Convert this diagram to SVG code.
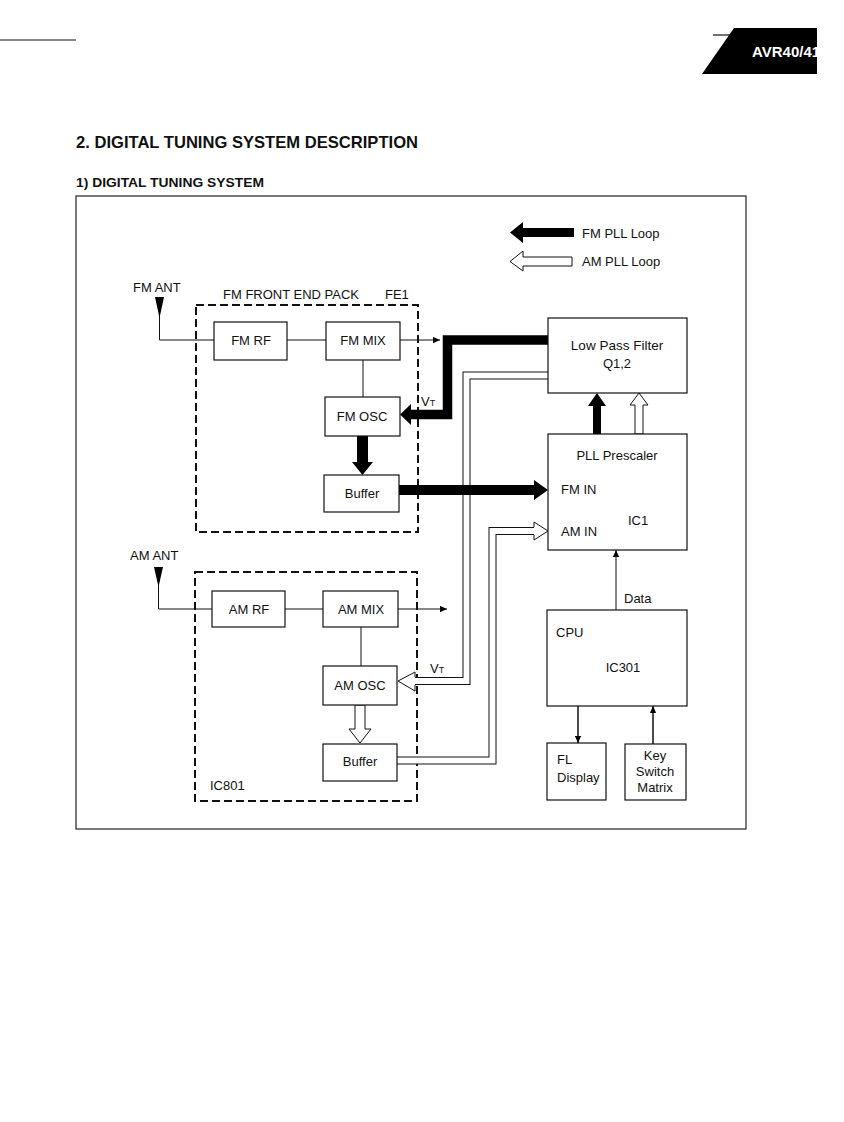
<svg xmlns="http://www.w3.org/2000/svg" width="844" height="1122" viewBox="0 0 844 1122">
<style>
text{font-family:"Liberation Sans",Arial,sans-serif;fill:#111}
.t{font-size:13px}
.m{text-anchor:middle}
.box{fill:#fff;stroke:#111;stroke-width:1.2}
.ln{fill:none;stroke:#111;stroke-width:1}
.dash{fill:none;stroke:#111;stroke-width:2;stroke-dasharray:8 4}
.blk{fill:#000;stroke:none}
.out{fill:#fff;stroke:#111;stroke-width:1}
.dblO{fill:none;stroke:#111;stroke-width:8;stroke-linejoin:miter}
.dblI{fill:none;stroke:#fff;stroke-width:6;stroke-linejoin:miter}
.thick{fill:none;stroke:#000;stroke-width:9.5;stroke-linejoin:miter}
</style>
<defs>
<marker id="arr" viewBox="0 0 10 10" refX="10" refY="5" markerWidth="12" markerHeight="7" markerUnits="userSpaceOnUse" orient="auto">
<path d="M0,0.5 L10,5 L0,9.5 Z" fill="#000"/>
</marker>
<clipPath id="tabclip"><rect x="690" y="20" width="127" height="60"/></clipPath>
</defs>

<g id="header">
<line x1="0" y1="40" x2="76" y2="40" stroke="#111" stroke-width="1.2"/>
<line x1="713" y1="35" x2="735" y2="35" stroke="#111" stroke-width="1.2"/>
<polygon points="734,28 817,28 817,74 702,74" fill="#000"/>
<text x="752" y="57" clip-path="url(#tabclip)" style="font-size:15px;font-weight:bold;fill:#fff">AVR40/41</text>
<text x="76" y="148" textLength="342" lengthAdjust="spacingAndGlyphs" style="font-size:17px;font-weight:bold">2. DIGITAL TUNING SYSTEM DESCRIPTION</text>
<text x="76" y="187" textLength="188" lengthAdjust="spacingAndGlyphs" style="font-size:13px;font-weight:bold">1) DIGITAL TUNING SYSTEM</text>
<rect x="76" y="196" width="670" height="633" fill="none" stroke="#222" stroke-width="1.2"/>
</g>

<g id="legend">
<polygon class="blk" points="574,228 523,228 523,222 510,232.5 523,243 523,237 574,237"/>
<text class="t" x="582" y="238">FM PLL Loop</text>
<polygon class="out" points="572,257 523,257 523,251 510,261.5 523,271 523,266 572,266"/>
<text class="t" x="582" y="266">AM PLL Loop</text>
</g>

<g id="fe1-group">
<rect class="dash" x="196" y="305" width="222" height="227"/>
<text class="t" x="223" y="299">FM FRONT END PACK</text>
<text class="t" x="385" y="299">FE1</text>
</g>
<g id="ic801-group">
<rect class="dash" x="195" y="572" width="222" height="229"/>
<text class="t" x="210" y="790">IC801</text>
</g>

<g id="connectors">
<polygon class="blk" points="155,297 164,297 159.5,318"/>
<polyline class="ln" points="159.5,316 159.5,340 214,340"/>
<line class="ln" x1="287" y1="340" x2="326" y2="340"/>
<line class="ln" x1="400" y1="340" x2="440" y2="340" marker-end="url(#arr)"/>
<line class="ln" x1="363" y1="360" x2="363" y2="397"/>
<polygon class="blk" points="357,436 368,436 368,462 373,462 362.5,475 352,462 357,462"/>
<polygon class="blk" points="154,567 163,567 158.5,587"/>
<polyline class="ln" points="158.5,585 158.5,609 212,609"/>
<line class="ln" x1="285" y1="609" x2="323" y2="609"/>
<line class="ln" x1="398" y1="609" x2="447" y2="609" marker-end="url(#arr)"/>
<line class="ln" x1="361" y1="627" x2="361" y2="666"/>
<polygon class="out" points="355,705 365,705 365,729 371,729 360,743 349,729 355,729"/>
<polyline class="dblO" points="548,375.5 466.5,375.5 466.5,681 415,681"/>
<polyline class="dblI" points="549,375.5 466.5,375.5 466.5,681 414,681"/>
<path d="M415,677 L415,672 L398,681 L415,691 L415,685" fill="#fff" stroke="#111" stroke-width="1"/>
<polyline class="dblO" points="397,760.5 492.5,760.5 492.5,531 534,531"/>
<polyline class="dblI" points="396,760.5 492.5,760.5 492.5,531 535,531"/>
<path d="M534,527 L534,522 L548,531 L534,540 L534,535" fill="#fff" stroke="#111" stroke-width="1"/>
<polyline class="thick" points="548,340 447.5,340 447.5,414.5 410,414.5"/>
<polygon class="blk" points="411,404 400,414.5 411,425"/>
<polygon class="blk" points="399,485 534,485 534,480 548,490 534,500 534,495 399,495"/>
<polygon class="blk" points="593,434 601,434 601,406 606,406 597,393 588,406 593,406"/>
<polygon class="out" points="635,434 643,434 643,405 648,405 639,393 630,405 635,405"/>
<line class="ln" x1="616" y1="610" x2="616" y2="550" marker-end="url(#arr)"/>
<text class="t" x="624" y="603">Data</text>
<line class="ln" x1="578" y1="706" x2="578" y2="743" marker-end="url(#arr)" style="stroke-width:1.5"/>
<line class="ln" x1="653" y1="744" x2="653" y2="706" marker-end="url(#arr)" style="stroke-width:1.5"/>
<text x="421" y="406" style="font-size:13px">V<tspan style="font-size:9px">T</tspan></text>
<text x="430" y="673" style="font-size:13px">V<tspan style="font-size:9px">T</tspan></text>
</g>

<g id="fm-ant"><text class="t" x="133" y="292">FM ANT</text></g>
<g id="am-ant"><text class="t" x="130" y="560">AM ANT</text></g>

<g id="fm-rf"><rect class="box" x="214" y="322" width="73" height="38"/><text class="t m" x="251" y="345">FM RF</text></g>
<g id="fm-mix"><rect class="box" x="326" y="322" width="74" height="38"/><text class="t m" x="363" y="345">FM MIX</text></g>
<g id="fm-osc"><rect class="box" x="325" y="397" width="75" height="39"/><text class="t m" x="362" y="421">FM OSC</text></g>
<g id="fm-buffer"><rect class="box" x="324" y="475" width="75" height="37"/><text class="t m" x="362" y="498">Buffer</text></g>

<g id="am-rf"><rect class="box" x="212" y="591" width="73" height="36"/><text class="t m" x="249" y="614">AM RF</text></g>
<g id="am-mix"><rect class="box" x="323" y="591" width="75" height="36"/><text class="t m" x="361" y="614">AM MIX</text></g>
<g id="am-osc"><rect class="box" x="323" y="666" width="74" height="39"/><text class="t m" x="360" y="690">AM OSC</text></g>
<g id="am-buffer"><rect class="box" x="323" y="744" width="74" height="37"/><text class="t m" x="360" y="766">Buffer</text></g>

<g id="lpf"><rect class="box" x="548" y="318" width="139" height="75"/><text class="m" x="617" y="350" style="font-size:13.5px">Low Pass Filter</text><text class="t m" x="617" y="368">Q1,2</text></g>
<g id="pll"><rect class="box" x="548" y="434" width="139" height="116"/>
<text class="t m" x="617" y="460">PLL Prescaler</text>
<text class="t" x="561" y="494">FM IN</text>
<text class="t" x="561" y="536">AM IN</text>
<text class="t" x="628" y="525">IC1</text></g>
<g id="cpu"><rect class="box" x="547" y="610" width="140" height="96"/>
<text class="t" x="556" y="637">CPU</text>
<text class="t m" x="623" y="672">IC301</text></g>
<g id="fl-display"><rect class="box" x="547" y="743" width="59" height="57"/>
<text class="t" x="557" y="764">FL</text>
<text class="t" x="557" y="782">Display</text></g>
<g id="key-matrix"><rect class="box" x="625" y="744" width="61" height="56"/>
<text class="t m" x="655" y="760">Key</text>
<text class="t m" x="655" y="776">Switch</text>
<text class="t m" x="655" y="792">Matrix</text></g>
</svg>
